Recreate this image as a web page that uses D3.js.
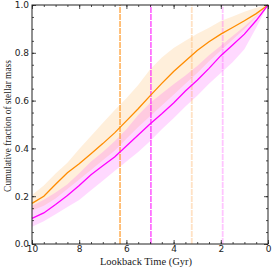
<!DOCTYPE html>
<html>
<head>
<meta charset="utf-8">
<script src="https://cdn.jsdelivr.net/npm/d3@7"></script>
<style>
  body { margin: 0; background: #fff; }
  svg { display: block; }
</style>
</head>
<body>
<div id="chart"></div>
<script>
let width = 274;
let height = 270;
let margin = {top: 5, right: 6, bottom: 26, left: 32};

// lookback time grid (Gyr)
const times = [10, 9.5, 9, 8.5, 8, 7.5, 7, 6.5, 6, 5.5, 5, 4.5, 4, 3.5, 3, 2.5, 2, 1.5, 1, 0.5, 0];

// orange sample: median and spread
const orangeMed = [0.170, 0.200, 0.250, 0.298, 0.336, 0.378, 0.420, 0.465, 0.515, 0.566, 0.620, 0.672, 0.722, 0.766, 0.810, 0.846, 0.878, 0.906, 0.934, 0.964, 1.0];
const orangeHi  = [0.205, 0.245, 0.295, 0.340, 0.398, 0.452, 0.506, 0.560, 0.610, 0.665, 0.730, 0.780, 0.820, 0.850, 0.880, 0.905, 0.933, 0.952, 0.972, 0.988, 1.0];
const orangeLo  = [0.140, 0.160, 0.190, 0.230, 0.270, 0.310, 0.350, 0.390, 0.440, 0.490, 0.535, 0.580, 0.625, 0.670, 0.715, 0.765, 0.810, 0.855, 0.900, 0.950, 1.0];

// magenta sample: median and spread
const magentaMed = [0.107, 0.130, 0.165, 0.203, 0.245, 0.290, 0.327, 0.364, 0.410, 0.456, 0.502, 0.545, 0.590, 0.640, 0.685, 0.735, 0.788, 0.833, 0.878, 0.935, 1.0];
const magentaHi  = [0.160, 0.185, 0.215, 0.250, 0.296, 0.345, 0.385, 0.430, 0.480, 0.540, 0.590, 0.630, 0.668, 0.705, 0.745, 0.790, 0.830, 0.870, 0.910, 0.955, 1.0];
const magentaLo  = [0.072, 0.095, 0.125, 0.155, 0.184, 0.225, 0.265, 0.305, 0.345, 0.385, 0.430, 0.480, 0.526, 0.575, 0.620, 0.670, 0.715, 0.760, 0.815, 0.905, 1.0];

// vertical markers (Gyr)
const markers = [
  {t: 6.27, color: "#ff9d30", opacity: 0.9, w: 1.4, dash: "6,1"},
  {t: 4.96, color: "#ff00ff", opacity: 0.9, w: 1.1, dash: "6,1"},
  {t: 3.23, color: "#ffa040", opacity: 0.3, w: 1.8, dash: "6,1"},
  {t: 1.92, color: "#ff40ff", opacity: 0.3, w: 1.8, dash: "6,1"}
];

const xTicks = [10, 8, 6, 4, 2, 0];
const yTicks = [0, 0.2, 0.4, 0.6, 0.8, 1.0];

let x = d3.scaleLinear().domain([10, 0]).range([margin.left, width - margin.right]);
let y = d3.scaleLinear().domain([0, 1]).range([height - margin.bottom, margin.top]);

let svg = d3.select("#chart").append("svg")
  .attr("width", width)
  .attr("height", height);

let band = (lo, hi) => d3.area()
  .x((d, i) => x(times[i]))
  .y0((d, i) => y(lo[i]))
  .y1((d, i) => y(hi[i]))(times);

let line = (vals) => d3.line()
  .x((d, i) => x(times[i]))
  .y((d, i) => y(vals[i]))(times);

svg.append("path").attr("d", band(orangeLo, orangeHi))
  .attr("fill", "#ff8c00").attr("fill-opacity", 0.14);
svg.append("path").attr("d", band(magentaLo, magentaHi))
  .attr("fill", "#ff00ff").attr("fill-opacity", 0.15);

markers.forEach(m => {
  svg.append("line")
    .attr("x1", x(m.t)).attr("x2", x(m.t))
    .attr("y1", y(0)).attr("y2", y(1))
    .attr("stroke", m.color)
    .attr("stroke-opacity", m.opacity)
    .attr("stroke-width", m.w)
    .attr("stroke-dasharray", m.dash);
});

svg.append("path").attr("d", line(orangeMed))
  .attr("fill", "none").attr("stroke", "#ff8c00").attr("stroke-width", 1.3);
svg.append("path").attr("d", line(magentaMed))
  .attr("fill", "none").attr("stroke", "#ff00ff").attr("stroke-width", 1.3);

// axes with inward ticks on all sides
let xMinor = d3.range(0, 10.01, 0.5);
let yMinor = d3.range(0, 1.001, 0.05);

let axB = d3.axisBottom(x).tickValues(xTicks).tickSize(-4).tickPadding(2).tickFormat(d3.format("d"));
let axT = d3.axisTop(x).tickValues(xTicks).tickSize(-4).tickFormat("");
let axL = d3.axisLeft(y).tickValues(yTicks).tickSize(-4).tickPadding(3).tickFormat(d3.format(".1f"));
let axR = d3.axisRight(y).tickValues(yTicks).tickSize(-4).tickFormat("");

let mB = d3.axisBottom(x).tickValues(xMinor).tickSize(-2).tickFormat("");
let mT = d3.axisTop(x).tickValues(xMinor).tickSize(-2).tickFormat("");
let mL = d3.axisLeft(y).tickValues(yMinor).tickSize(-2).tickFormat("");
let mR = d3.axisRight(y).tickValues(yMinor).tickSize(-2).tickFormat("");

let bottomY = height - margin.bottom, rightX = width - margin.right;
[[mB, `translate(0,${bottomY})`], [mT, `translate(0,${margin.top})`],
 [mL, `translate(${margin.left},0)`], [mR, `translate(${rightX},0)`],
 [axB, `translate(0,${bottomY})`], [axT, `translate(0,${margin.top})`],
 [axL, `translate(${margin.left},0)`], [axR, `translate(${rightX},0)`]].forEach(([ax, tr]) => {
  let g = svg.append("g").attr("transform", tr).call(ax);
  g.select(".domain").remove();
  g.selectAll("line").attr("stroke", "#222").attr("stroke-width", 0.8);
  g.selectAll("text").attr("font-family", "DejaVu Sans").attr("font-size", 9).attr("fill", "#222");
});

svg.append("rect")
  .attr("x", margin.left).attr("y", margin.top)
  .attr("width", rightX - margin.left).attr("height", bottomY - margin.top)
  .attr("fill", "none").attr("stroke", "#222").attr("stroke-width", 1);

svg.append("text")
  .attr("x", 146).attr("y", 264.5)
  .attr("text-anchor", "middle")
  .attr("font-family", "Liberation Serif").attr("font-size", 10.5)
  .attr("fill", "#222")
  .text("Lookback Time (Gyr)");

svg.append("text")
  .attr("transform", `translate(11,126) rotate(-90)`)
  .attr("text-anchor", "middle")
  .attr("font-family", "Liberation Serif").attr("font-size", 9.4)
  .attr("fill", "#222")
  .text("Cumulative fraction of stellar mass");
</script>
</body>
</html>
